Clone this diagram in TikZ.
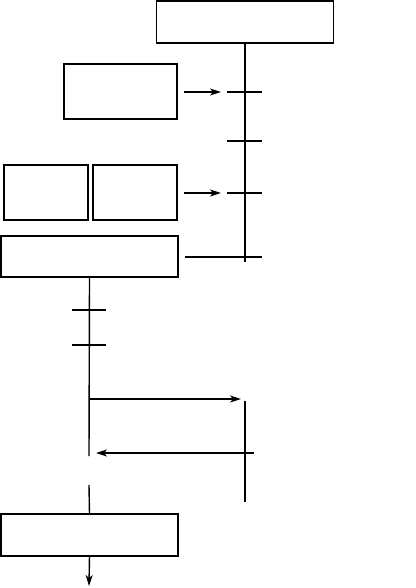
\documentclass[tikz,border=0pt]{standalone}
\usetikzlibrary{arrows.meta}
\begin{document}
\begin{tikzpicture}[x=1pt,y=-1pt,
  every path/.style={line width=1.4pt},
  box/.style={draw, line width=1.4pt, inner sep=0pt, outer sep=0pt},
  arr/.style={-{Stealth[length=11pt,width=7pt,inset=3pt]}},
  tick/.style={line width=1.4pt}]
\useasboundingbox (0,0) rectangle (415,588);
% boxes
\node[box, minimum width=177pt, minimum height=42pt] (top) at (245,22) {};
\node[box, minimum width=113pt, minimum height=55pt] (b2) at (120.5,91.5) {};
\node[box, minimum width=84pt, minimum height=55pt] (b3a) at (46,192.5) {};
\node[box, minimum width=84pt, minimum height=55pt] (b3b) at (135,192.5) {};
\node[box, minimum width=177pt, minimum height=41pt] (b4) at (89.5,256.5) {};
\node[box, minimum width=177pt, minimum height=42pt] (b5) at (89.5,535) {};
% coordinates
\coordinate (mainend) at (245,262);
\coordinate (t1l) at (227,92); \coordinate (t1r) at (262,92);
\coordinate (t2l) at (227,141); \coordinate (t2r) at (262,141);
\coordinate (t3l) at (227,193); \coordinate (t3r) at (262,193);
\coordinate (t4r) at (262,257);
\coordinate (lv) at (89,456);
\coordinate (ta1l) at (72,310); \coordinate (ta1r) at (106,310);
\coordinate (ta2l) at (72,345); \coordinate (ta2r) at (106,345);
\coordinate (brs) at (89,399); \coordinate (bre) at (241,399);
\coordinate (rvt) at (245,401); \coordinate (rvb) at (245,502);
\coordinate (backs) at (254,453); \coordinate (backe) at (96,453);
\coordinate (lv2) at (89,485);
\coordinate (outend) at (89,586);
% main sequence on the right
\draw (top.south) -- (mainend);
\draw[tick] (t1l) -- (t1r);
\draw[tick] (t2l) -- (t2r);
\draw[tick] (t3l) -- (t3r);
\draw[arr, shorten <=7pt, shorten >=6pt] (b2.east |- t1l) -- (t1l);
\draw[arr, shorten <=7pt, shorten >=6pt] (b3b.east |- t3l) -- (t3l);
\draw[shorten <=7pt] (b4.east |- t4r) -- (t4r);
% left sequence
\draw (b4.south) -- (lv);
\draw[tick] (ta1l) -- (ta1r);
\draw[tick] (ta2l) -- (ta2r);
\draw[arr] (brs) -- (bre);
\draw (rvt) -- (rvb);
\draw[arr] (backs) -- (backe);
\draw (lv2) -- (b5.north);
\draw[arr] (b5.south) -- (outend);
\end{tikzpicture}
\end{document}
